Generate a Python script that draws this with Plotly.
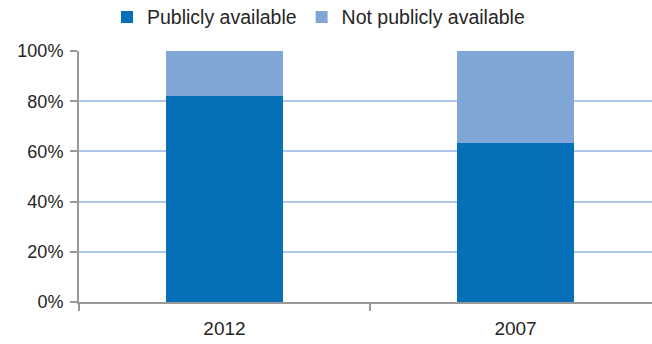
import plotly.graph_objects as go

years = ["2012", "2007"]
public_vals = [82, 63.5]
not_public_vals = [18, 36.5]
series_names = ["Publicly available", "Not publicly available"]
y_ticks = [0, 20, 40, 60, 80, 100]
y_tick_labels = ["0%", "20%", "40%", "60%", "80%", "100%"]

FONT = "Liberation Sans, Arial, sans-serif"

fig = go.Figure()
fig.add_trace(go.Bar(x=years, y=public_vals, name=series_names[0],
                     marker=dict(color="#0570B8", line=dict(width=0)), width=0.403))
fig.add_trace(go.Bar(x=years, y=not_public_vals, name=series_names[1],
                     marker=dict(color="#7FA6D5", line=dict(width=0)), width=0.403))

fig.update_layout(
    width=652, height=344,
    barmode="stack",
    plot_bgcolor="white", paper_bgcolor="white",
    margin=dict(l=79, r=0, t=51, b=42),
    font=dict(family=FONT, size=18, color="#262626"),
    legend=dict(orientation="h", x=0.418, xanchor="center", y=0.95, yanchor="middle",
                yref="container", font=dict(size=19.5, color="#262626"),
                itemwidth=30, traceorder="normal"),
    xaxis=dict(range=[-0.5, 1.469], showline=True, linecolor="#999999", linewidth=2,
               ticks="outside", tickson="boundaries", ticklen=7, tickcolor="#999999",
               tickwidth=2, showgrid=False, tickfont=dict(size=19), ticklabelstandoff=8),
    yaxis=dict(range=[0, 100], tickvals=y_ticks, ticktext=y_tick_labels,
               showline=True, linecolor="#999999", linewidth=2,
               ticks="outside", ticklen=7, tickcolor="#999999", tickwidth=2,
               showgrid=True, gridcolor="#B0C6EA", gridwidth=2,
               zeroline=False, tickfont=dict(size=18), ticklabelstandoff=3),
    bargap=0,
)

fig.write_html("out.html")
